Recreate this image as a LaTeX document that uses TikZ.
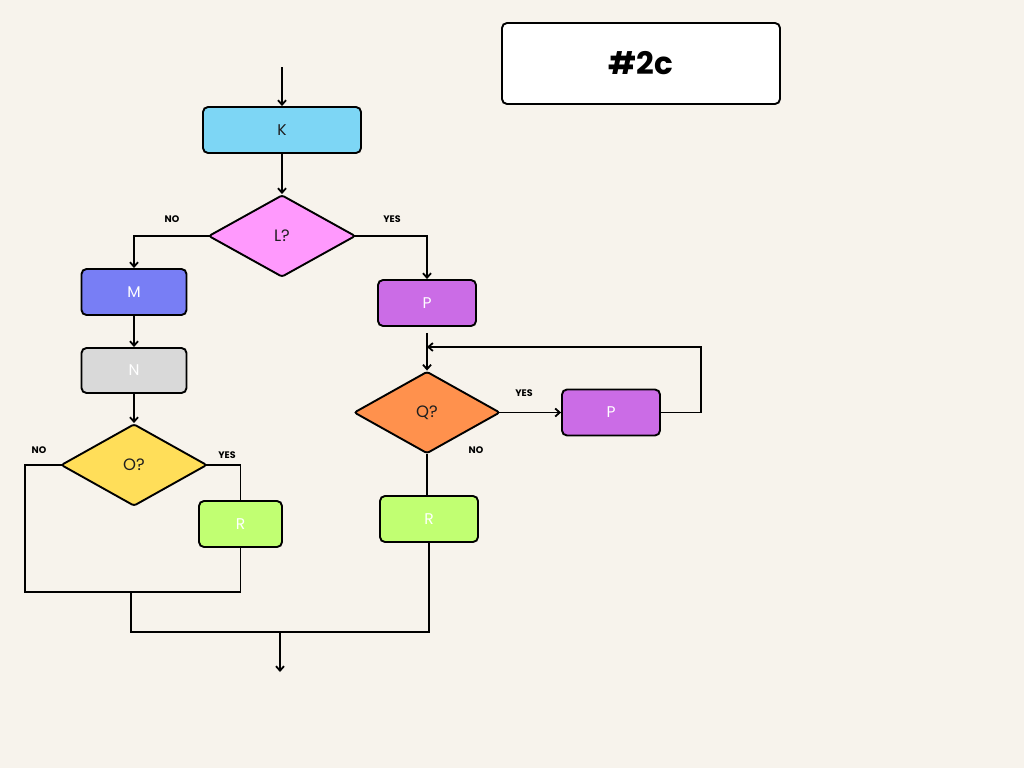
\documentclass[tikz,border=0pt]{standalone}
\usepackage{fontspec}
\setmainfont{Poppins}
\usetikzlibrary{shapes.geometric,arrows.meta,backgrounds}
\definecolor{bg}{HTML}{F7F3EC}
\definecolor{cK}{HTML}{7DD6F5}
\definecolor{cL}{HTML}{FF99FD}
\definecolor{cM}{HTML}{787EF5}
\definecolor{cN}{HTML}{D9D9D9}
\definecolor{cO}{HTML}{FFDE59}
\definecolor{cR}{HTML}{C1FF72}
\definecolor{cP}{HTML}{CB6CE6}
\definecolor{cQ}{HTML}{FF914D}
\definecolor{ink}{HTML}{1E1E1E}
\begin{document}
\begin{tikzpicture}[x=1pt,y=-1pt,
  box/.style={draw=black, line width=1.9pt, rounded corners=5pt, inner sep=0pt,
    font=\fontsize{15.5}{17}\selectfont},
  dia/.style={draw=black, diamond, line width=1.9pt, rounded corners=2.5pt, inner sep=0pt,
    text=ink, font=\fontsize{16.5}{18}\selectfont},
  conn/.style={line width=1.8pt, draw=black},
  arr/.style={conn, -{Straight Barb[length=4.5pt,width=8pt]}},
  lbl/.style={font=\bfseries\fontsize{9.5}{11}\selectfont, text=black}]
\useasboundingbox (0,0) rectangle (1024,768);

\node[box, fill=white, minimum width=278, minimum height=81,
  font=\bfseries\fontsize{31}{34}\selectfont] (title) at (641,63.5) {\#2c};

\node[box, fill=cK, text=ink, minimum width=158, minimum height=46] (K) at (282,130) {K};
\node[dia, fill=cL, minimum width=147, minimum height=82] (L) at (282,236) {L?};
\node[box, fill=cM, text=white, minimum width=105, minimum height=46] (M) at (134,292) {M};
\node[box, fill=cN, text=white, minimum width=105, minimum height=45] (N) at (134,370.5) {N};
\node[dia, fill=cO, minimum width=146, minimum height=82] (O) at (134,465) {O?};
\node[box, fill=cR, text=white, minimum width=83, minimum height=46] (R1) at (240.5,524) {R};
\node[box, fill=cP, text=white, minimum width=98, minimum height=46] (P1) at (427,303) {P};
\node[dia, fill=cQ, minimum width=146, minimum height=82] (Q) at (427,412.5) {Q?};
\node[box, fill=cP, text=white, minimum width=98, minimum height=46] (P2) at (611,412.5) {P};
\node[box, fill=cR, text=white, minimum width=98, minimum height=46] (R2) at (429,519) {R};

\node[lbl] (l1) at (172,219) {NO};
\node[lbl] (l2) at (392,219) {YES};
\node[lbl] (l3) at (39,450) {NO};
\node[lbl] (l4) at (227,455) {YES};
\node[lbl] (l5) at (524,393) {YES};
\node[lbl] (l6) at (476,450) {NO};

\begin{pgfonlayer}{background}
\fill[bg] (0,0) rectangle (1024,768);
\coordinate (start) at (282,67);
\draw[arr] (start) -- (K.north);
\draw[arr] (K.south) -- (L.north);
\draw[arr] ([xshift=4pt]L.west) -| (M.north);
\draw[arr] ([xshift=-4pt]L.east) -| (P1.north);
\draw[arr] (M.south) -- (N.north);
\draw[arr] (N.south) -- (O.north);
\draw[conn] ([xshift=-4pt]O.east) -| (R1.north);
\coordinate (oL) at (25,592);
\draw[conn] ([xshift=4pt]O.west) -| (oL) -- (R1.south |- oL) -- (R1.south);
\coordinate (m1) at (131,592);
\coordinate (m2) at (131,632);
\draw[conn] (m1) -- (m2) -| (R2.south);
\coordinate (j) at (280,632);
\coordinate (end) at (280,672);
\draw[arr] (j) -- (end);
\draw[arr] ([yshift=-6pt]P1.south) -- (Q.north);
\draw[arr] ([xshift=-4pt]Q.east) -- (P2.west);
\coordinate (lp) at (701,347);
\draw[arr] (P2.east) -| (lp) -- (Q.north |- lp);
\draw[conn] (Q.south) -- (Q.south |- R2.north);
\end{pgfonlayer}
\end{tikzpicture}
\end{document}
